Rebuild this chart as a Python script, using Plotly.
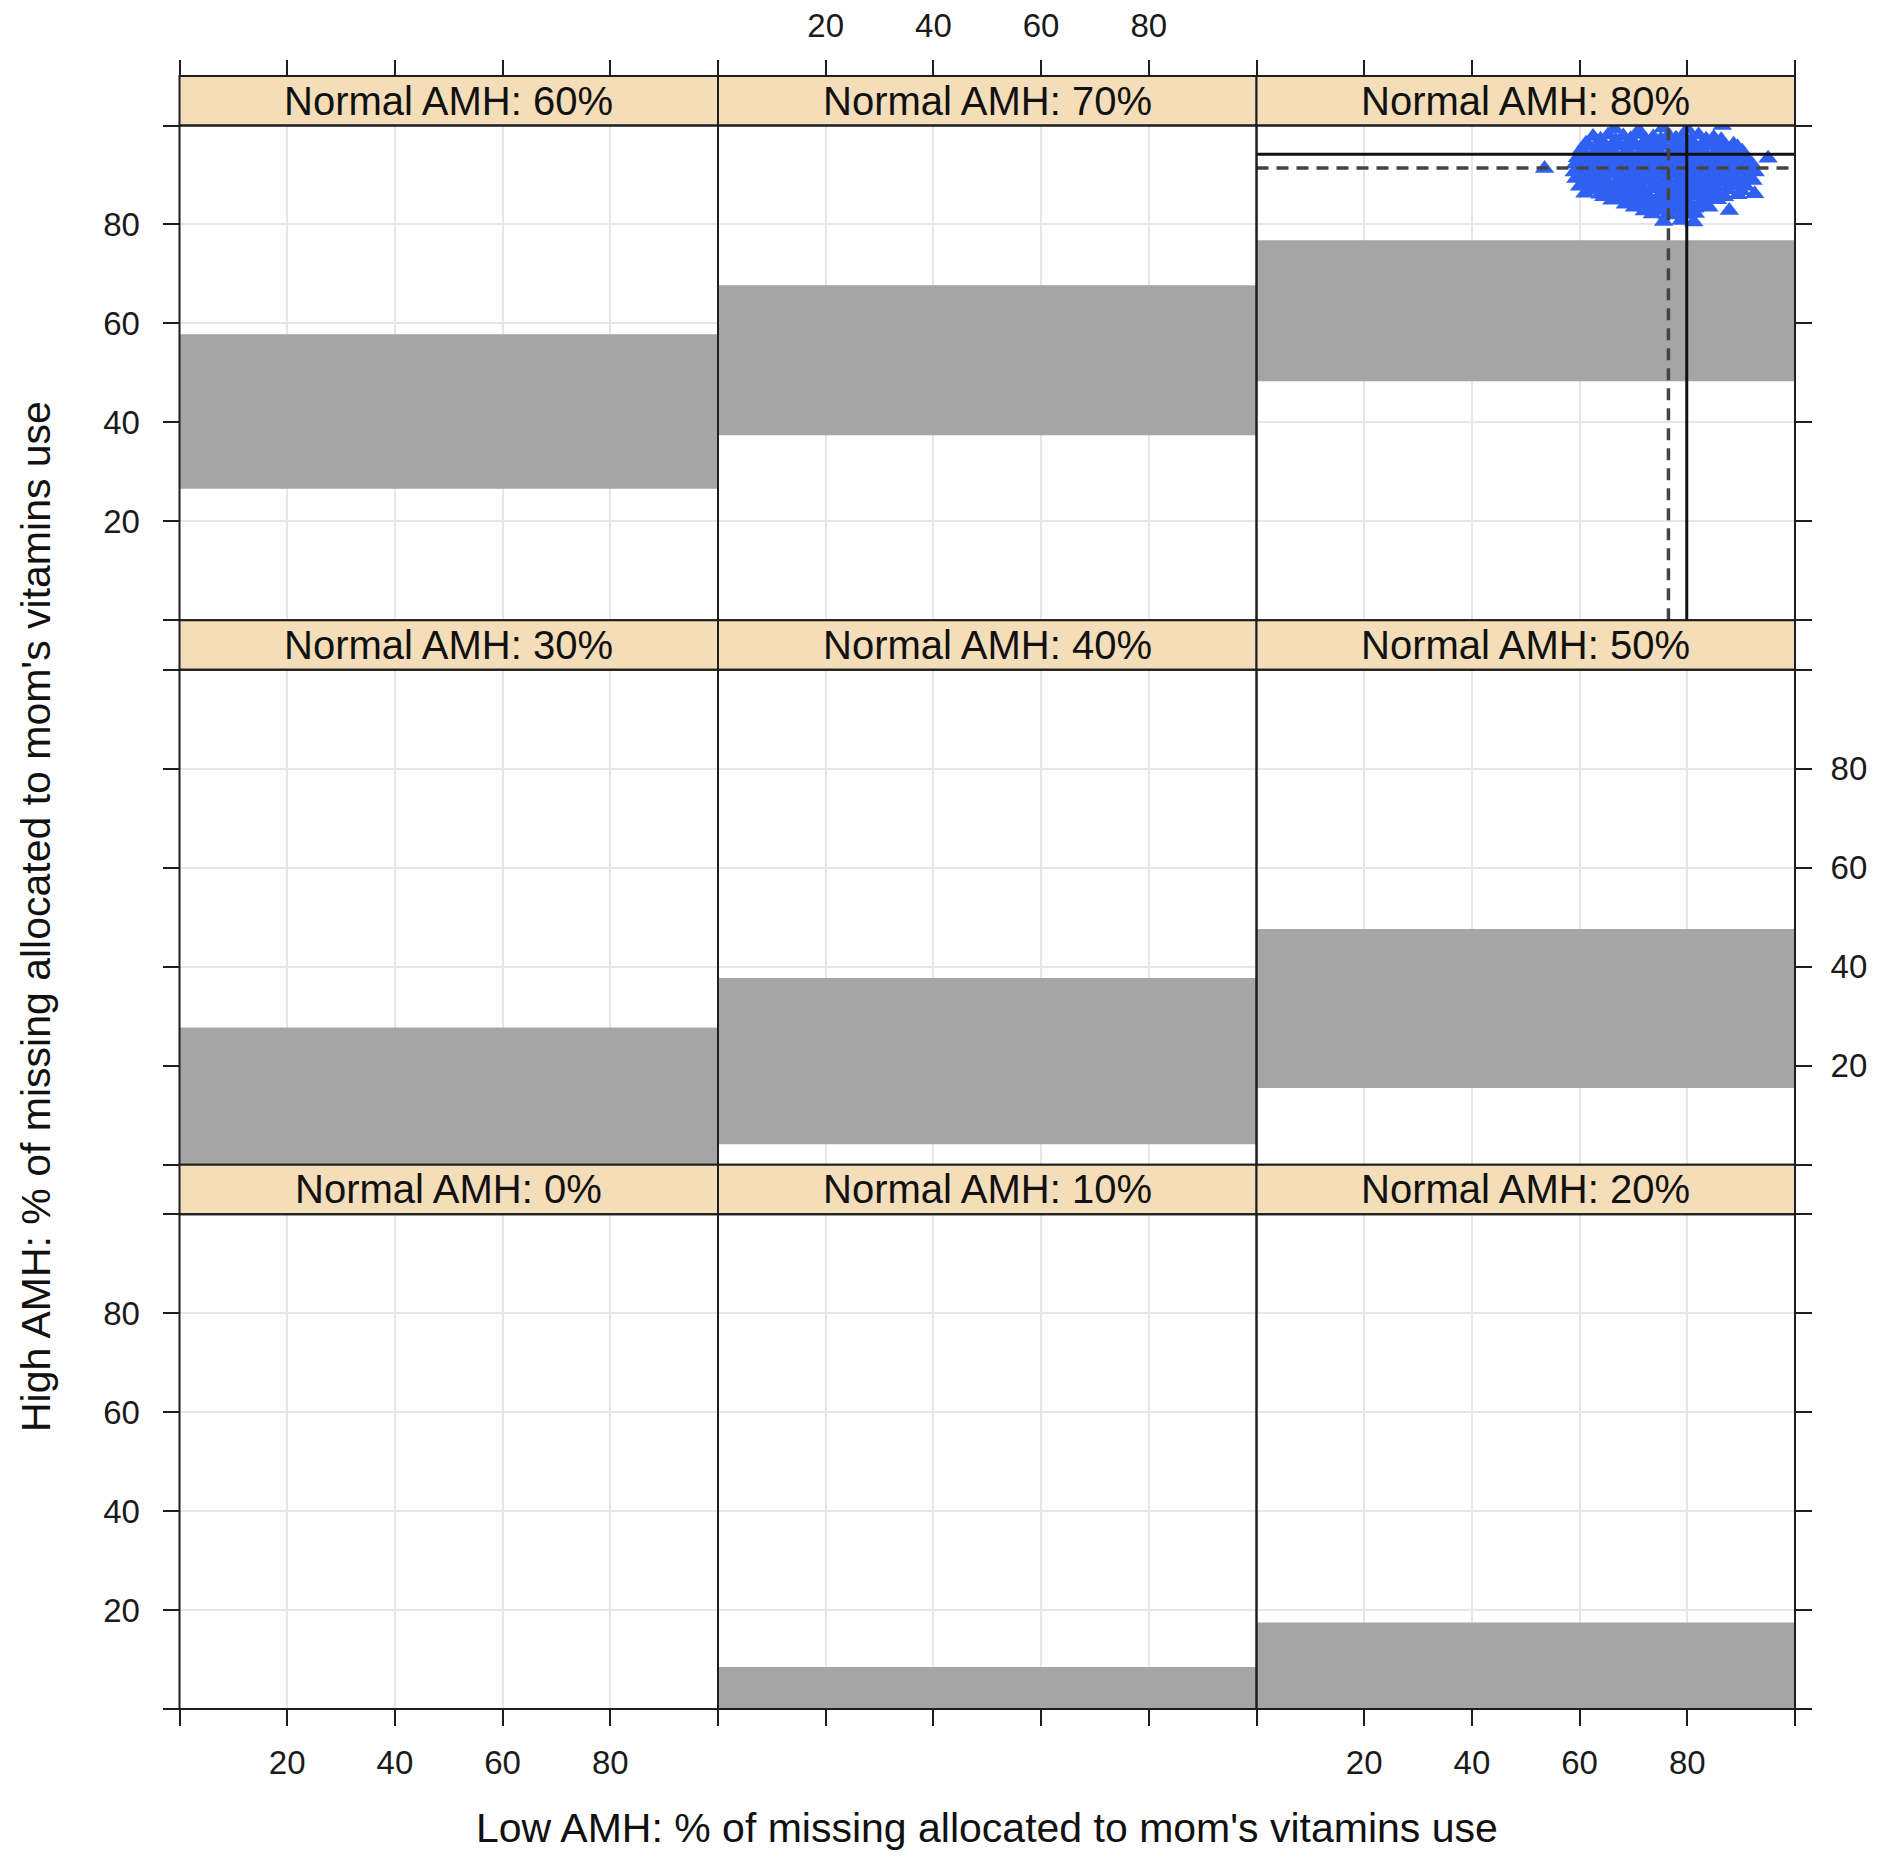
import plotly.graph_objects as go

# ---------------- data ----------------
normal_amh = [0, 10, 20, 30, 40, 50, 60, 70, 80]
band_low = [None, 0, 0, 0, 4.1, 15.5, 26.6, 37.4, 48.3]
band_high = [None, 8.5, 17.5, 27.7, 37.7, 47.6, 57.8, 67.7, 76.8]
panel_rows = [[60, 70, 80], [30, 40, 50], [0, 10, 20]]  # top row to bottom row
x_range = [0, 100]
y_range = [0, 100]
tick_vals = [0, 20, 40, 60, 80, 100]
tick_text = ["", "20", "40", "60", "80", ""]

# simulated results shown in the "Normal AMH: 80%" panel
scatter_x = [
    66.5, 71.0, 75.5, 80.0, 86.5,
    62.5, 65.3, 68.1, 70.9, 73.7, 76.5, 79.3, 82.1, 84.9,
    63.9, 66.7, 69.5, 72.3, 75.1, 77.9, 80.7, 83.5, 86.3,
    61.2, 64.0, 66.8, 69.6, 72.4, 75.2, 78.0, 80.8, 83.6, 86.4, 88.6,
    61.7, 64.5, 67.3, 70.1, 72.9, 75.7, 78.5, 81.3, 84.1, 86.9, 89.3,
    60.3, 63.1, 65.9, 68.7, 71.5, 74.3, 77.1, 79.9, 82.7, 85.5, 88.3, 90.2,
    61.0, 63.8, 66.6, 69.4, 72.2, 75.0, 77.8, 80.6, 83.4, 86.2, 89.0,
    59.6, 62.4, 65.2, 68.0, 70.8, 73.6, 76.4, 79.2, 82.0, 84.8, 87.6, 90.6,
    60.6, 63.4, 66.2, 69.0, 71.8, 74.6, 77.4, 80.2, 83.0, 85.8, 88.6, 91.4,
    59.2, 62.0, 64.8, 67.6, 70.4, 73.2, 76.0, 78.8, 81.6, 84.4, 87.2, 90.0, 92.0,
    60.2, 63.0, 65.8, 68.6, 71.4, 74.2, 77.0, 79.8, 82.6, 85.4, 88.2, 91.0,
    59.0, 61.6, 64.4, 67.2, 70.0, 72.8, 75.6, 78.4, 81.2, 84.0, 86.8, 89.6, 92.6,
    60.4, 63.2, 66.0, 68.8, 71.6, 74.4, 77.2, 80.0, 82.8, 85.6, 88.4, 91.2,
    59.3, 62.0, 64.8, 67.6, 70.4, 73.2, 76.0, 78.8, 81.6, 84.4, 87.2, 90.0, 92.2,
    61.2, 64.0, 66.8, 69.6, 72.4, 75.2, 78.0, 80.8, 83.6, 86.4, 89.2,
    60.0, 62.8, 65.6, 68.4, 71.2, 74.0, 76.8, 79.6, 82.4, 85.2, 88.0, 90.8,
    62.2, 65.0, 67.8, 70.6, 73.4, 76.2, 79.0, 81.8, 84.6, 87.4, 90.0,
    61.0, 63.8, 66.6, 69.4, 72.2, 75.0, 77.8, 80.6, 83.4, 86.2, 89.4,
    64.5, 67.3, 70.1, 72.9, 75.7, 78.5, 81.3, 84.1, 86.9,
    66.0, 68.8, 71.6, 74.4, 77.2, 80.0, 82.8, 85.6, 92.5,
    68.5, 71.3, 74.1, 76.9, 79.7, 82.5,
    70.2, 73.0, 75.8, 78.6, 81.4, 84.0,
    72.0, 74.8, 77.6, 80.4,
    73.5, 76.3, 79.1, 81.5, 87.8,
    75.6, 78.8, 81.2,
    53.5, 95.0,
]
scatter_y = [
    99.3, 99.0, 99.5, 99.2, 100.0,
    97.8, 98.1, 97.9, 98.2, 97.7, 98.0, 97.9, 98.1, 97.6,
    97.2, 97.0, 97.3, 97.1, 97.2, 97.4, 97.0, 97.2, 97.1,
    96.4, 96.6, 96.3, 96.7, 96.5, 96.4, 96.6, 96.3, 96.5, 96.4, 96.2,
    95.8, 95.7, 95.9, 95.8, 95.6, 95.8, 95.9, 95.7, 95.8, 95.6, 95.7,
    95.1, 94.9, 95.2, 95.0, 94.8, 95.1, 95.0, 95.2, 94.9, 95.0, 95.1, 94.8,
    94.3, 94.4, 94.2, 94.3, 94.5, 94.2, 94.3, 94.4, 94.2, 94.3, 94.1,
    93.5, 93.7, 93.6, 93.4, 93.8, 93.6, 93.5, 93.7, 93.6, 93.4, 93.7, 93.5,
    92.9, 92.8, 93.0, 92.9, 92.7, 92.9, 93.0, 92.8, 92.9, 92.7, 92.9, 92.8,
    92.2, 92.0, 92.1, 92.3, 91.9, 92.1, 92.2, 92.0, 92.1, 92.3, 92.0, 92.1, 92.2,
    91.4, 91.5, 91.3, 91.4, 91.6, 91.3, 91.4, 91.5, 91.3, 91.4, 91.5, 91.3,
    90.6, 90.8, 90.7, 90.5, 90.8, 90.6, 90.7, 90.9, 90.6, 90.7, 90.5, 90.8, 90.6,
    90.0, 89.9, 90.1, 90.0, 89.8, 90.0, 90.1, 89.9, 90.0, 89.8, 90.0, 89.9,
    89.3, 89.1, 89.2, 89.4, 89.0, 89.2, 89.3, 89.1, 89.2, 89.0, 89.3, 89.2, 88.9,
    88.5, 88.6, 88.4, 88.5, 88.7, 88.4, 88.5, 88.6, 88.4, 88.5, 88.3,
    87.7, 87.9, 87.8, 87.6, 87.9, 87.8, 87.7, 87.9, 87.8, 87.6, 87.8, 87.7,
    87.0, 87.1, 86.9, 87.0, 87.2, 86.9, 87.0, 87.1, 86.9, 87.0, 86.8,
    86.3, 86.1, 86.4, 86.2, 86.3, 86.1, 86.4, 86.2, 86.3, 86.2, 86.0,
    85.6, 85.5, 85.7, 85.6, 85.4, 85.6, 85.7, 85.5, 85.6,
    84.9, 85.0, 84.8, 84.9, 85.1, 84.8, 84.9, 85.0, 86.2,
    84.1, 84.2, 84.0, 84.1, 84.3, 84.0,
    83.5, 83.3, 83.4, 83.6, 83.3, 83.5,
    82.7, 82.8, 82.6, 82.7,
    82.1, 81.9, 82.0, 82.2, 82.8,
    80.6, 80.8, 80.5,
    91.3, 93.4,
]
scatter_panel = 80
ref_solid_x = 79.9
ref_dash_x = 76.5
ref_solid_y = 94.2
ref_dash_y = 91.4

# ---------------- geometry (page pixels) ----------------
PAGE_OFF = 8                      # default body margin of the page
W, H = 1887 - 2 * PAGE_OFF, 1869 - 2 * PAGE_OFF
COL_X0, COL_W = 179.5, 538.5
ROW_Y0, ROW_H, STRIP_H = 76.0, 544.33, 49.5

STRIP_FILL = "#F4DDB9"
BAND_FILL = "#A5A5A5"
GRID = "#E6E6E6"
BORDER = "#1E1E1E"
BLUE = "#3060F2"
FONT = "Liberation Sans, Arial, Helvetica, sans-serif"


def fx(p):
    return (p - PAGE_OFF) / W


def fy(p):
    return 1 - (p - PAGE_OFF) / H


fig = go.Figure()
layout = dict(
    width=W, height=H,
    margin=dict(l=0, r=0, t=0, b=0),
    paper_bgcolor="white", plot_bgcolor="white",
    showlegend=False,
    font=dict(family=FONT, color="#1a1a1a"),
)
shapes = []
annotations = []

for r in range(3):
    strip_top = ROW_Y0 + r * ROW_H
    panel_top = strip_top + STRIP_H
    panel_bot = strip_top + ROW_H
    for c in range(3):
        k = r * 3 + c + 1
        sx = "" if k == 1 else str(k)
        amh = panel_rows[r][c]
        i = normal_amh.index(amh)
        x0 = COL_X0 + c * COL_W
        x1 = x0 + COL_W

        xa = dict(
            domain=[fx(x0), fx(x1)], range=x_range, tickvals=tick_vals, ticktext=tick_text,
            showgrid=True, gridcolor=GRID, gridwidth=1.5, zeroline=False, showline=False,
            tickfont=dict(size=33, family=FONT, color="#1a1a1a"),
            ticklen=16, tickwidth=2, tickcolor=BORDER, fixedrange=True,
        )
        if r == 2:
            xa.update(anchor="y" + sx, side="bottom", ticks="outside",
                      showticklabels=(c != 1), ticklabelstandoff=8)
        elif r == 0:
            xa.update(anchor="free", position=fy(strip_top), side="top", ticks="outside",
                      showticklabels=(c == 1), ticklabelstandoff=10)
        else:
            xa.update(anchor="y" + sx, ticks="", showticklabels=False)

        ya = dict(
            domain=[fy(panel_bot), fy(panel_top)], range=y_range, tickvals=tick_vals, ticktext=tick_text,
            showgrid=True, gridcolor=GRID, gridwidth=1.5, zeroline=False, showline=False,
            tickfont=dict(size=33, family=FONT, color="#1a1a1a"),
            ticklen=16, tickwidth=2, tickcolor=BORDER, fixedrange=True, anchor="x" + sx,
        )
        if c == 0:
            ya.update(side="left", ticks="outside", showticklabels=(r != 1), ticklabelstandoff=16)
        elif c == 2:
            ya.update(side="right", ticks="outside", showticklabels=(r == 1), ticklabelstandoff=12)
        else:
            ya.update(ticks="", showticklabels=False)

        layout["xaxis" + sx] = xa
        layout["yaxis" + sx] = ya

        # grey band
        if band_low[i] is not None:
            lo, hi = band_low[i], band_high[i]
            fig.add_trace(go.Scatter(
                x=[x_range[0], x_range[1], x_range[1], x_range[0], x_range[0]],
                y=[lo, lo, hi, hi, lo],
                mode="lines", fill="toself", fillcolor=BAND_FILL,
                line=dict(width=0, color=BAND_FILL), hoverinfo="skip",
                xaxis="x" + sx, yaxis="y" + sx,
            ))
        else:
            fig.add_trace(go.Scatter(x=[None], y=[None], mode="markers",
                                     xaxis="x" + sx, yaxis="y" + sx, hoverinfo="skip"))

        if amh == scatter_panel:
            fig.add_trace(go.Scatter(
                x=scatter_x, y=scatter_y, mode="markers",
                marker=dict(symbol="triangle-up", size=17, color=BLUE, line=dict(width=0)),
                xaxis="x" + sx, yaxis="y" + sx, hoverinfo="skip",
            ))
            fig.add_trace(go.Scatter(x=x_range, y=[ref_solid_y, ref_solid_y], mode="lines",
                                     line=dict(color="#111111", width=3),
                                     xaxis="x" + sx, yaxis="y" + sx, hoverinfo="skip"))
            fig.add_trace(go.Scatter(x=x_range, y=[ref_dash_y, ref_dash_y], mode="lines",
                                     line=dict(color="#444444", width=3.5, dash="12px,8px"),
                                     xaxis="x" + sx, yaxis="y" + sx, hoverinfo="skip"))
            fig.add_trace(go.Scatter(x=[ref_solid_x, ref_solid_x], y=y_range, mode="lines",
                                     line=dict(color="#111111", width=3),
                                     xaxis="x" + sx, yaxis="y" + sx, hoverinfo="skip"))
            fig.add_trace(go.Scatter(x=[ref_dash_x, ref_dash_x], y=y_range, mode="lines",
                                     line=dict(color="#444444", width=3.5, dash="12px,8px"),
                                     xaxis="x" + sx, yaxis="y" + sx, hoverinfo="skip"))

        # strip
        shapes.append(dict(type="rect", xref="paper", yref="paper",
                           x0=fx(x0), x1=fx(x1), y0=fy(panel_top), y1=fy(strip_top),
                           fillcolor=STRIP_FILL, line=dict(color=BORDER, width=2), layer="above"))
        annotations.append(dict(xref="paper", yref="paper", x=fx((x0 + x1) / 2),
                                y=fy(strip_top + STRIP_H / 2), text=f"Normal AMH: {amh}%",
                                showarrow=False, font=dict(size=40, family=FONT, color="#111111"),
                                xanchor="center", yanchor="middle"))
        # panel border
        shapes.append(dict(type="rect", xref="paper", yref="paper",
                           x0=fx(x0), x1=fx(x1), y0=fy(panel_bot), y1=fy(panel_top),
                           line=dict(color=BORDER, width=2), layer="above"))

annotations.append(dict(xref="paper", yref="paper", x=fx(COL_X0 + 1.5 * COL_W), y=fy(1828),
                        text="Low AMH: % of missing allocated to mom's vitamins use",
                        showarrow=False, font=dict(size=41, family=FONT, color="#111111"),
                        xanchor="center", yanchor="middle"))
annotations.append(dict(xref="paper", yref="paper", x=fx(36), y=fy(917),
                        text="High AMH: % of missing allocated to mom's vitamins use",
                        showarrow=False, textangle=-90,
                        font=dict(size=41, family=FONT, color="#111111"),
                        xanchor="center", yanchor="middle"))

layout["shapes"] = shapes
layout["annotations"] = annotations
fig.update_layout(**layout)
fig.write_html("out.html")
